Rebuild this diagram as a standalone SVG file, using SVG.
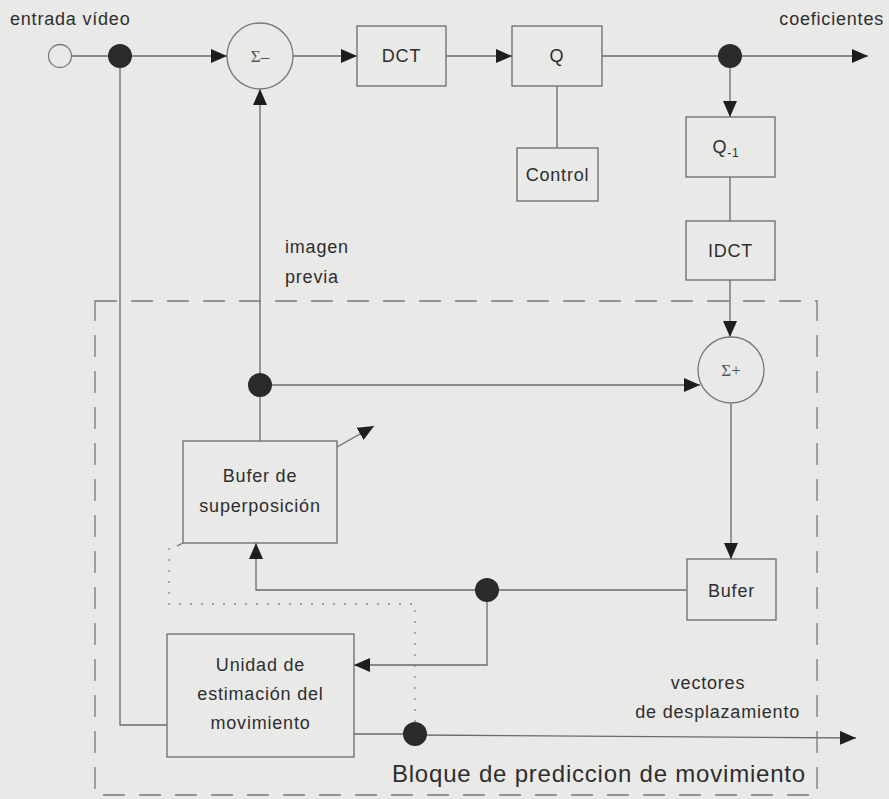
<svg xmlns="http://www.w3.org/2000/svg" width="889" height="799" viewBox="0 0 889 799">
<defs>
<marker id="ah" viewBox="0 0 16 14" refX="16" refY="7" markerWidth="16" markerHeight="14" markerUnits="userSpaceOnUse" orient="auto">
<path d="M0,0 L16,7 L0,14 Z" fill="#1e1e1e"/>
</marker>
</defs>
<style>
.bg{fill:#e9e9e7}
.box{fill:none;stroke:#6a6a6a;stroke-width:1.3}
.ln{fill:none;stroke:#6a6a6a;stroke-width:1.3}
.ar{fill:none;stroke:#6a6a6a;stroke-width:1.3;marker-end:url(#ah)}
.dot{fill:#2a2a2a}
.dash{fill:none;stroke:#777;stroke-width:1.3;stroke-dasharray:22 14}
.dotted{fill:none;stroke:#888;stroke-width:1.3;stroke-dasharray:2 9}
.t{font-family:"Liberation Sans",Arial,sans-serif;font-size:18px;fill:#2e2e2e;letter-spacing:0.8px}
.s{font-family:"Liberation Serif","Times New Roman",serif;font-size:17px;fill:#555}
</style>
<rect class="bg" x="0" y="0" width="889" height="799"/>

<g id="connectors">
<line class="ln" x1="72" y1="56" x2="120" y2="56"/>
<line class="ar" x1="120" y1="56" x2="227" y2="56"/>
<line class="ar" x1="293" y1="56" x2="357" y2="56"/>
<line class="ar" x1="446" y1="56" x2="512" y2="56"/>
<line class="ar" x1="602" y1="56" x2="868" y2="56"/>
<line class="ln" x1="557" y1="86" x2="557" y2="148"/>
<line class="ar" x1="730" y1="56" x2="730" y2="117"/>
<line class="ln" x1="730" y1="177" x2="730" y2="221"/>
<line class="ar" x1="730" y1="280" x2="730" y2="337"/>
<line class="ar" x1="731" y1="404" x2="731" y2="559"/>
<polyline class="ar" points="260,441 260,385 260,89"/>
<line class="ar" x1="260" y1="385" x2="700" y2="385"/>
<line class="ar" x1="337" y1="447" x2="374" y2="426"/>
<line class="ln" x1="177" y1="546" x2="183" y2="543"/>
<polyline class="ar" points="686,590 256,590 256,543"/>
<polyline class="ar" points="487,590 487,665 354,665"/>
<polyline class="ln" points="120,56 120,725 167,725"/>
<line class="ln" x1="354" y1="734" x2="415" y2="734"/>
<line class="ar" x1="415" y1="735" x2="856" y2="738"/>
<polyline class="dotted" points="169,548 169,604 415,604 415,734"/>
</g>

<g id="dashed-block">
<rect class="dash" x="95" y="301" width="722" height="494"/>
</g>

<g id="input">
<circle cx="60" cy="56" r="11.5" fill="none" stroke="#777" stroke-width="1.3"/>
</g>
<g id="dots">
<circle class="dot" cx="120" cy="56" r="12"/>
<circle class="dot" cx="730" cy="56" r="12"/>
<circle class="dot" cx="260" cy="385" r="12"/>
<circle class="dot" cx="487" cy="590" r="12"/>
<circle class="dot" cx="415" cy="734" r="12"/>
</g>

<g id="sum-minus">
<circle cx="260" cy="56" r="33" fill="#e9e9e7" stroke="#777" stroke-width="1.3"/>
<text class="s" x="260" y="62" text-anchor="middle">Σ–</text>
</g>
<g id="dct">
<rect class="box" x="357" y="26" width="89" height="60"/>
<text class="t" x="401.5" y="62" text-anchor="middle">DCT</text>
</g>
<g id="q">
<rect class="box" x="512" y="26" width="90" height="60"/>
<text class="t" x="557" y="62" text-anchor="middle">Q</text>
</g>
<g id="control">
<rect class="box" x="517" y="148" width="81" height="53"/>
<text class="t" x="557.5" y="181" text-anchor="middle">Control</text>
</g>
<g id="qinv">
<rect class="box" x="686" y="117" width="89" height="60"/>
<text class="t" x="726" y="153" text-anchor="middle">Q<tspan font-size="12" dy="4">-1</tspan></text>
</g>
<g id="idct">
<rect class="box" x="686" y="221" width="89" height="59"/>
<text class="t" x="730.5" y="257" text-anchor="middle">IDCT</text>
</g>
<g id="sum-plus">
<circle cx="731" cy="370" r="33" fill="#e9e9e7" stroke="#777" stroke-width="1.3"/>
<text class="s" x="731" y="376" text-anchor="middle">Σ+</text>
</g>
<g id="bufer">
<rect class="box" x="687" y="559" width="89" height="61"/>
<text class="t" x="731.5" y="597" text-anchor="middle">Bufer</text>
</g>
<g id="bufer-superposicion">
<rect class="box" x="183" y="441" width="154" height="102"/>
<text class="t" x="260" y="482" text-anchor="middle">Bufer de</text>
<text class="t" x="260" y="512" text-anchor="middle">superposición</text>
</g>
<g id="unidad">
<rect class="box" x="167" y="634" width="187" height="123"/>
<text class="t" x="260.5" y="671" text-anchor="middle">Unidad de</text>
<text class="t" x="260.5" y="700" text-anchor="middle">estimación del</text>
<text class="t" x="260.5" y="729" text-anchor="middle">movimiento</text>
</g>

<g id="labels">
<text class="t" x="10" y="25">entrada vídeo</text>
<text class="t" x="884" y="25" text-anchor="end">coeficientes</text>
<text class="t" x="285" y="253">imagen</text>
<text class="t" x="285" y="283">previa</text>
<text class="t" x="708" y="689" text-anchor="middle">vectores</text>
<text class="t" x="800" y="718" text-anchor="end">de desplazamiento</text>
<text class="t" x="806" y="782" text-anchor="end" style="font-size:24px">Bloque de prediccion de movimiento</text>
</g>
</svg>
